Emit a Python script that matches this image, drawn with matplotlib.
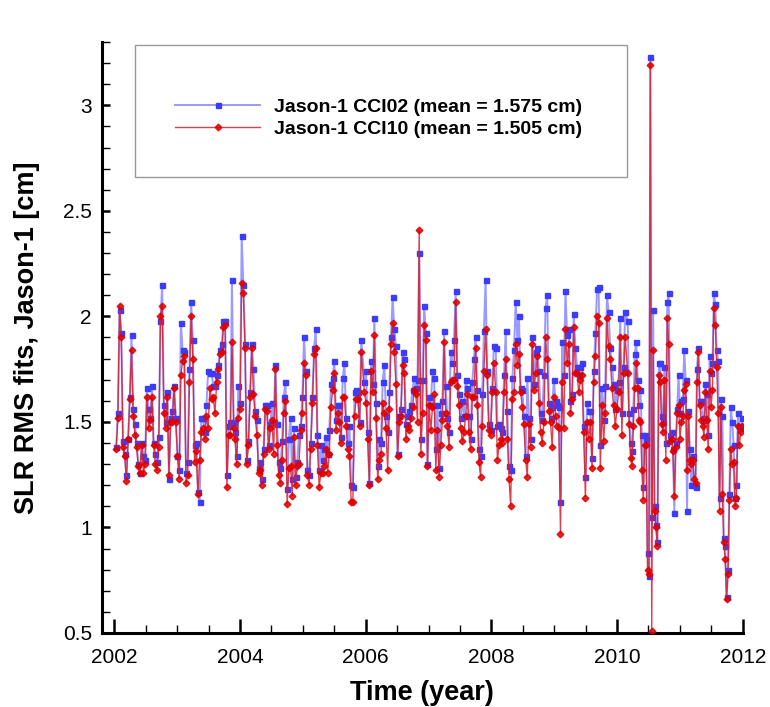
import numpy as np
import matplotlib
matplotlib.use("Agg")
import matplotlib.pyplot as plt
from matplotlib.ticker import MultipleLocator, FormatStrFormatter
from matplotlib.patches import Rectangle

plt.rcParams['font.family'] = ['Liberation Sans', 'DejaVu Sans']

# start / end date (year) of each block of cycles
seg_start = [2002.03, 2003.92, 2005.98, 2008.07, 2010.17]
seg_end = [2003.90, 2005.93, 2008.04, 2010.13, 2011.99]

# Jason-1 CCI10 RMS [cm]
cci10_a = [1.37, 1.52, 2.05, 1.90, 1.38, 1.34, 1.22, 1.42, 1.61, 1.84,
           1.53, 1.44, 1.38, 1.29, 1.26, 1.39, 1.26, 1.30, 1.62, 1.47,
           1.51, 1.62, 1.39, 1.30, 1.27, 1.38, 2.00, 2.05, 1.54, 1.47,
           1.62, 1.25, 1.50, 1.50, 1.66, 1.50, 1.34, 1.23, 1.72, 1.79,
           1.81, 1.21, 1.25, 1.69, 2.00, 1.80, 1.31, 1.36, 1.16, 1.32,
           1.45, 1.47, 1.42, 1.53, 1.47, 1.66, 1.61, 1.62, 1.54, 1.69,
           1.75, 1.82, 1.83, 1.95, 1.96, 1.19, 1.44, 1.44, 1.88, 1.47]
cci10_b = [1.42, 1.30, 1.52, 1.56, 2.16, 2.11, 1.85, 1.30, 1.39, 1.62,
           1.85, 1.63, 1.53, 1.44, 1.26, 1.27, 1.20, 1.35, 1.56, 1.55,
           1.37, 1.47, 1.51, 1.35, 1.75, 1.39, 1.25, 1.21, 1.32, 1.54,
           1.60, 1.11, 1.28, 1.29, 1.15, 1.43, 1.20, 1.29, 1.30, 1.46,
           1.54, 1.78, 1.72, 1.25, 1.20, 1.37, 1.59, 1.82, 1.85, 1.39,
           1.19, 1.26, 1.26, 1.29, 1.37, 1.26, 1.35, 1.57, 1.65, 1.73,
           1.46, 1.54, 1.50, 1.40, 1.62, 1.62, 1.48, 1.37, 1.34, 1.12,
           1.12, 1.53, 1.61, 1.61, 1.48, 1.83]
cci10_c = [1.64, 1.59, 1.42, 1.20, 1.74, 1.64, 1.91, 1.52, 1.23, 1.32,
           1.35, 1.59, 1.54, 1.47, 1.27, 1.56, 1.87, 1.97, 1.83, 1.68,
           1.34, 1.50, 1.53, 1.77, 1.73, 1.42, 1.48, 1.46, 1.52, 1.57,
           1.65, 1.63, 1.50, 2.41, 1.35, 1.54, 1.96, 1.89, 1.29, 1.58,
           1.46, 1.57, 1.63, 1.27, 1.46, 1.24, 1.39, 1.51, 1.88, 1.54,
           1.48, 1.38, 1.69, 1.70, 1.70, 2.07, 1.67, 1.58, 1.47, 1.41,
           1.45, 1.53, 1.63, 1.45, 1.37, 1.62, 1.62, 1.85, 1.58, 1.31,
           1.24, 1.48, 1.74, 1.94, 1.72, 1.46, 1.44, 1.64, 1.78]
cci10_d = [1.64, 1.32, 1.39, 1.42, 1.40, 1.64, 1.80, 1.42, 1.23, 1.10,
           1.61, 1.64, 1.87, 1.77, 1.82, 1.64, 1.57, 1.49, 1.32, 1.24,
           1.49, 1.38, 1.87, 1.65, 1.73, 1.81, 1.59, 1.45, 1.40, 1.50,
           1.90, 1.80, 1.55, 1.50, 1.38, 1.62, 1.53, 1.48, 1.47, 0.97,
           1.69, 1.47, 1.94, 1.78, 1.87, 1.54, 1.61, 1.95, 1.73, 1.73,
           1.64, 1.70, 1.72, 1.45, 1.14, 1.50, 1.42, 1.50, 1.28, 1.69,
           1.81, 2.00, 1.97, 1.28, 1.58, 1.41, 1.54, 1.99, 1.86, 1.80,
           1.66, 1.58, 1.48, 1.56, 1.64, 1.90, 1.44, 1.73, 1.90]
cci10_e = [1.73, 1.49, 1.33, 1.29, 1.48, 1.66, 1.78, 1.66, 1.51, 1.50,
           1.27, 1.13, 1.39, 1.39, 0.80, 0.78, 3.19, 0.51, 1.84, 1.08,
           1.00, 0.91, 1.72, 1.69, 1.49, 1.45, 1.70, 1.32, 1.99, 1.87,
           1.41, 1.42, 1.36, 1.15, 1.38, 1.54, 1.58, 1.42, 1.50, 1.53,
           1.65, 1.68, 1.27, 1.53, 1.32, 1.30, 1.32, 1.23, 1.21, 1.69,
           1.83, 1.58, 1.51, 1.48, 1.43, 1.64, 1.51, 1.37, 1.74, 1.57,
           1.65, 2.04, 1.96, 1.76, 1.54, 1.08, 1.57, 1.16, 0.93, 0.85,
           0.66, 0.78, 1.13, 1.37, 1.30, 1.31, 1.10, 1.14, 1.48, 1.39,
           1.45, 1.48]

# Jason-1 CCI02 RMS [cm]
cci02_a = [1.38, 1.54, 2.03, 1.92, 1.41, 1.35, 1.25, 1.42, 1.62, 1.91,
           1.56, 1.49, 1.40, 1.30, 1.26, 1.40, 1.34, 1.32, 1.66, 1.56,
           1.52, 1.67, 1.40, 1.35, 1.31, 1.43, 1.98, 2.15, 1.58, 1.50,
           1.64, 1.23, 1.52, 1.55, 1.67, 1.52, 1.34, 1.27, 1.97, 1.84,
           1.83, 1.26, 1.31, 1.75, 2.07, 1.89, 1.39, 1.40, 1.17, 1.12,
           1.52, 1.52, 1.45, 1.58, 1.74, 1.73, 1.73, 1.67, 1.67, 1.72,
           1.77, 1.84, 1.87, 1.98, 1.98, 1.25, 1.48, 1.50, 2.17, 1.50]
cci02_b = [1.45, 1.34, 1.67, 1.59, 2.38, 2.15, 1.87, 1.32, 1.41, 1.64,
           1.87, 1.75, 1.55, 1.51, 1.28, 1.31, 1.23, 1.37, 1.58, 1.58,
           1.39, 1.49, 1.59, 1.50, 1.77, 1.49, 1.31, 1.28, 1.41, 1.62,
           1.69, 1.18, 1.42, 1.52, 1.23, 1.47, 1.24, 1.31, 1.44, 1.48,
           1.62, 1.90, 1.74, 1.27, 1.25, 1.40, 1.62, 1.85, 1.94, 1.44,
           1.27, 1.39, 1.32, 1.37, 1.43, 1.35, 1.46, 1.68, 1.71, 1.79,
           1.51, 1.58, 1.58, 1.43, 1.71, 1.78, 1.52, 1.40, 1.48, 1.20,
           1.19, 1.64, 1.65, 1.64, 1.50, 1.89]
cci02_c = [1.69, 1.74, 1.45, 1.21, 1.79, 1.68, 1.99, 1.59, 1.29, 1.42,
           1.40, 1.69, 1.77, 1.53, 1.45, 1.64, 1.90, 2.09, 1.94, 1.86,
           1.35, 1.53, 1.56, 1.83, 1.80, 1.49, 1.53, 1.55, 1.58, 1.65,
           1.71, 1.66, 1.70, 2.30, 1.42, 1.70, 2.05, 1.92, 1.30, 1.62,
           1.58, 1.74, 1.71, 1.37, 1.58, 1.28, 1.54, 1.60, 1.93, 1.67,
           1.52, 1.45, 1.83, 1.78, 1.89, 2.12, 1.72, 1.63, 1.52, 1.60,
           1.53, 1.70, 1.66, 1.53, 1.42, 1.69, 1.80, 1.90, 1.65, 1.37,
           1.34, 1.63, 1.93, 2.17, 1.74, 1.49, 1.46, 1.66, 1.86]
cci02_d = [1.85, 1.48, 1.49, 1.47, 1.45, 1.72, 1.93, 1.55, 1.29, 1.27,
           1.71, 1.84, 2.07, 1.89, 2.00, 1.66, 1.65, 1.53, 1.34, 1.71,
           1.52, 1.42, 1.90, 1.68, 1.83, 1.85, 1.74, 1.54, 1.51, 1.72,
           2.04, 2.10, 1.59, 1.52, 1.57, 1.70, 1.60, 1.58, 1.57, 1.12,
           1.88, 1.72, 2.12, 1.91, 1.94, 1.60, 1.63, 2.01, 1.85, 1.76,
           1.72, 1.76, 1.78, 1.48, 1.24, 1.59, 1.55, 1.55, 1.33, 1.74,
           1.92, 2.13, 2.14, 1.39, 1.66, 1.51, 1.67, 2.10, 2.02, 1.85,
           1.76, 1.68, 1.56, 1.65, 1.69, 1.99, 1.54, 1.76, 2.02]
cci02_e = [1.98, 1.54, 1.40, 1.36, 1.56, 1.82, 1.88, 1.70, 1.58, 1.65,
           1.44, 1.19, 1.44, 1.42, 0.88, 0.77, 3.23, 1.05, 2.03, 1.10,
           1.01, 0.93, 1.78, 1.78, 1.53, 1.50, 1.76, 1.40, 2.07, 2.11,
           1.44, 1.45, 1.37, 1.07, 1.40, 1.56, 1.72, 1.54, 1.60, 1.61,
           1.84, 1.70, 1.08, 1.55, 1.37, 1.20, 1.34, 1.20, 1.19, 1.75,
           1.85, 1.60, 1.60, 1.51, 1.52, 1.68, 1.63, 1.44, 1.81, 1.73,
           1.78, 2.11, 2.06, 1.84, 1.79, 1.14, 1.61, 1.53, 0.95, 0.91,
           0.67, 0.80, 1.16, 1.57, 1.50, 1.39, 1.14, 1.20, 1.54, 1.48,
           1.47, 1.52]

cci10 = [cci10_a, cci10_b, cci10_c, cci10_d, cci10_e]
cci02 = [cci02_a, cci02_b, cci02_c, cci02_d, cci02_e]

# cycles are evenly spaced inside each block
t = np.concatenate([np.linspace(s, e, len(v)) for s, e, v in zip(seg_start, seg_end, cci10)])
y10 = np.concatenate(cci10)
y02 = np.concatenate(cci02)

fig = plt.figure(figsize=(7.7, 7.07), dpi=100)
ax = fig.add_axes([0.1321, 0.1047, 0.8325, 0.8359])

ax.plot(t, y02, color='#9a9aff', lw=1.4, marker='s', ms=3.6,
        mfc='#3c3cff', mec='#3c3cff', label='Jason-1 CCI02 (mean = 1.575 cm)', zorder=2)
ax.plot(t, y10, color='#d81e2e', lw=1.0, alpha=0.85, marker='D', ms=3.4,
        mfc='#e00000', mec='#e00000', label='Jason-1 CCI10 (mean = 1.505 cm)', zorder=3)

ax.set_xlim(2001.8, 2012.0)
ax.set_ylim(0.5, 3.3)
ax.xaxis.set_major_locator(MultipleLocator(2))
ax.xaxis.set_minor_locator(MultipleLocator(0.5))
ax.yaxis.set_major_locator(MultipleLocator(0.5))
ax.yaxis.set_minor_locator(MultipleLocator(0.1))
ax.yaxis.set_major_formatter(FormatStrFormatter('%g'))

for s in ['top', 'right']:
    ax.spines[s].set_visible(False)
for s in ['left', 'bottom']:
    ax.spines[s].set_linewidth(2.2)

ax.tick_params(axis='both', which='both', direction='in', labelsize=15)
ax.tick_params(axis='x', which='major', length=10, width=1.8, pad=11)
ax.tick_params(axis='x', which='minor', length=6, width=1.0)
ax.tick_params(axis='y', which='major', length=6, width=1.8, pad=7)
ax.tick_params(axis='y', which='minor', length=6, width=1.0)

ax.set_xlabel('Time (year)', fontsize=19.5, fontweight='bold', labelpad=9)
ax.set_ylabel('SLR RMS fits, Jason-1 [cm]', fontsize=19.5, fontweight='bold')
ax.yaxis.set_label_coords(-0.096, 0.5)

# legend box
ax.add_patch(Rectangle((0.052, 0.772), 0.7675, 0.223, transform=ax.transAxes,
                       facecolor='white', edgecolor='#999999', lw=1.0, zorder=5))
leg = ax.legend(loc='center left', bbox_to_anchor=(0.0988, 0.8714), frameon=False,
                borderpad=0, handlelength=4.4, handletextpad=0.7, labelspacing=0.25,
                prop={'size': 14, 'weight': 'bold'})
leg.set_zorder(6)

fig.savefig('out.png', dpi=100)
